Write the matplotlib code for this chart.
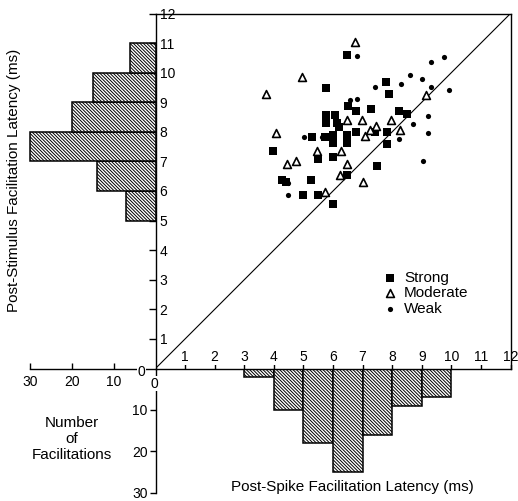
#!/usr/bin/env python3
"""Post-spike vs post-stimulus facilitation latency, with marginal histograms."""
import matplotlib
matplotlib.use("Agg")
import matplotlib.pyplot as plt

plt.rcParams["font.family"] = ["Liberation Sans", "DejaVu Sans"]
plt.rcParams["hatch.linewidth"] = 0.7
plt.rcParams["hatch.color"] = "black"

# scatter data (ms): x = post-spike latency, y = post-stimulus latency
strong_x = [6.48, 5.77, 7.79, 7.90, 6.50, 6.77, 7.30, 8.22, 8.51, 5.78, 6.06, 5.78,
            6.12, 6.01, 6.01, 6.46, 6.46, 5.29, 5.74, 6.77, 7.81, 7.42, 7.81, 3.98,
            5.49, 5.99, 7.49, 6.46, 4.26, 5.26, 4.97, 5.50, 6.00, 6.20, 6.01, 6.46,
            4.40]
strong_y = [10.61, 9.48, 9.67, 9.28, 8.88, 8.71, 8.77, 8.71, 8.59, 8.58, 8.58, 8.30,
            8.30, 7.90, 7.62, 7.90, 7.62, 7.82, 7.82, 8.01, 8.01, 8.01, 7.59, 7.36,
            7.08, 7.15, 6.86, 6.55, 6.38, 6.36, 5.86, 5.86, 5.57, 8.15, 7.76, 7.76,
            6.30]

moderate_x = [6.76, 4.96, 3.74, 9.16, 4.06, 6.46, 6.97, 7.96, 7.47, 8.26, 7.08,
              5.45, 6.26, 4.45, 4.75, 6.49, 6.24, 7.00, 5.74, 7.25]
moderate_y = [11.04, 9.84, 9.27, 9.25, 7.95, 8.39, 8.39, 8.39, 8.21, 8.07, 7.87,
              7.36, 7.36, 6.92, 7.01, 6.92, 6.54, 6.32, 5.95, 8.05]

weak_x = [6.80, 9.76, 9.30, 8.60, 9.00, 8.30, 7.42, 9.32, 9.91, 6.80, 6.57, 9.21,
          8.72, 9.22, 5.01, 8.23, 9.03, 4.47, 4.49, 5.63, 7.30]
weak_y = [10.55, 10.52, 10.35, 9.93, 9.80, 9.63, 9.52, 9.50, 9.41, 9.12, 9.06, 8.54,
          8.26, 7.96, 7.84, 7.77, 7.02, 5.85, 6.27, 7.84, 8.07]

# marginal histograms (1 ms bins)
stim_bins = [5, 6, 7, 8, 9, 10]
stim_counts = [7, 14, 30, 20, 15, 6]
spike_bins = [3, 4, 5, 6, 7, 8, 9]
spike_counts = [2, 10, 18, 25, 16, 9, 7]

ticks = list(range(1, 13))
count_ticks = [10, 20, 30]

W, H = 518, 501


def px_rect(left, top, right, bottom):
    return [left / W, 1 - bottom / H, (right - left) / W, (bottom - top) / H]


fig = plt.figure(figsize=(W / 100, H / 100), dpi=100)

HATCH = "\\" * 10

# left histogram (post-stimulus)
axl = fig.add_axes(px_rect(26.3, 13.5, 155.5, 368.5))
axl.barh(stim_bins, stim_counts, height=1, align="edge", color="white",
         edgecolor="black", linewidth=1.1, hatch=HATCH)
axl.set_xlim(31, 0)
axl.set_ylim(0, 12)
for s in ["top", "right", "left"]:
    axl.spines[s].set_visible(False)
axl.spines["bottom"].set_bounds(0, 30)
axl.spines["bottom"].set_linewidth(1.0)
axl.set_yticks([])
axl.set_xticks(count_ticks)
axl.tick_params(axis="x", direction="in", length=4, width=1, pad=5, labelsize=10)
axl.patch.set_visible(False)

# bottom histogram (post-spike)
axb = fig.add_axes(px_rect(155.5, 368.5, 510.5, 496.9))
axb.bar(spike_bins, spike_counts, width=1, align="edge", color="white",
        edgecolor="black", linewidth=1.1, hatch=HATCH)
axb.set_xlim(0, 12)
axb.set_ylim(31, 0)
for s in ["top", "right", "bottom"]:
    axb.spines[s].set_visible(False)
axb.spines["left"].set_bounds(0, 30)
axb.spines["left"].set_linewidth(1.0)
axb.set_xticks([])
axb.set_yticks(count_ticks)
axb.tick_params(axis="y", direction="out", length=4, width=1, pad=1.5, labelsize=10)
axb.patch.set_visible(False)

# main scatter
ax = fig.add_axes(px_rect(155.5, 13.5, 510.5, 368.5))
ax.patch.set_visible(False)
ax.plot([0, 12], [0, 12], color="black", linewidth=0.8)
ax.scatter(strong_x, strong_y, marker="s", s=30, color="black", linewidths=0,
           label="Strong", zorder=3)
ax.scatter(weak_x, weak_y, marker="o", s=14, color="black", linewidths=0,
           label="Weak", zorder=3)
ax.scatter(moderate_x, moderate_y, marker="^", s=32, facecolor="white",
           edgecolor="black", linewidths=1.2, label="Moderate", zorder=4)
ax.set_xlim(0, 12)
ax.set_ylim(0, 12)
for s in ax.spines.values():
    s.set_linewidth(1.0)
ax.set_xticks(ticks)
ax.set_yticks(ticks)
ax.tick_params(axis="x", direction="in", length=5, width=1, pad=-13, labelsize=10)
ax.tick_params(axis="y", direction="out", length=5, width=1, pad=-8, labelsize=10)
for lab in ax.get_yticklabels():
    lab.set_horizontalalignment("left")
    lab.set_bbox(dict(facecolor="white", edgecolor="none", pad=0.5))
for lab in ax.get_xticklabels():
    lab.set_bbox(dict(facecolor="white", edgecolor="none", pad=0.5))

ax.annotate("0", xy=(0, 0), xytext=(-14, -3), textcoords="offset pixels",
            ha="center", va="center", fontsize=10,
            bbox=dict(facecolor="white", edgecolor="none", pad=0.5))
ax.annotate("0", xy=(0, 0), xytext=(-1, -15), textcoords="offset pixels",
            ha="center", va="center", fontsize=10,
            bbox=dict(facecolor="white", edgecolor="none", pad=0.5))

handles, labels = ax.get_legend_handles_labels()
order = [labels.index(n) for n in ["Strong", "Moderate", "Weak"]]
ax.legend([handles[i] for i in order], [labels[i] for i in order],
          loc="upper left", bbox_to_anchor=(0.64, 0.275), frameon=False,
          borderpad=0, borderaxespad=0, handlelength=1.0, handletextpad=0.4,
          labelspacing=0.1, fontsize=11)

fig.text(352 / W, 1 - 487.5 / H, "Post-Spike Facilitation Latency (ms)",
         ha="center", va="center", fontsize=11)
fig.text(14 / W, 1 - 180.5 / H, "Post-Stimulus Facilitation Latency (ms)",
         ha="center", va="center", rotation=90, fontsize=11)
fig.text(72 / W, 1 - 439 / H, "Number\nof\nFacilitations",
         ha="center", va="center", fontsize=11, linespacing=1.15)

fig.savefig("out.png", dpi=100)
